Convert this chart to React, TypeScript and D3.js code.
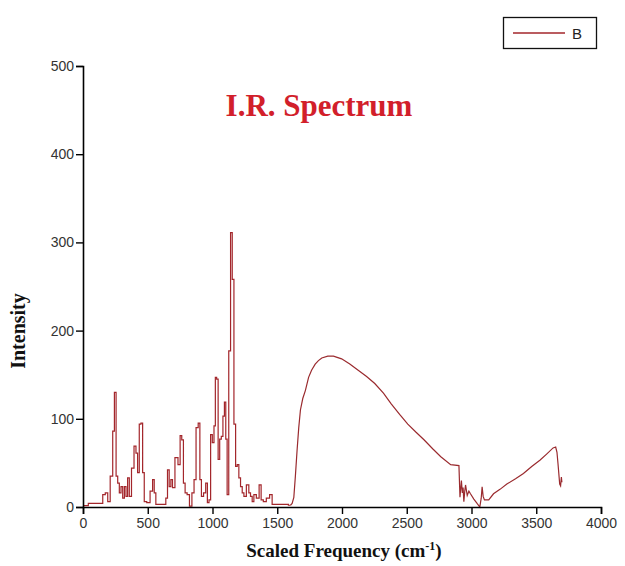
import {useEffect, useRef} from 'react'
import * as d3 from 'd3'

// spectrum (frequency in cm-1, intensity)
const freq = [0, 82, 146, 159, 185, 197, 223, 236, 249, 262, 274, 287, 300, 313, 326, 338, 351, 364,
    385, 403, 415, 428, 441, 454, 467, 479, 505, 531, 544, 556, 569, 595, 633, 646, 659, 672, 685, 697,
    723, 744, 756, 769, 782, 795, 813, 831, 851, 864, 882, 897, 908, 921, 941, 954, 967, 979,
    992, 1005, 1018, 1026, 1038, 1049, 1062, 1074, 1087, 1097, 1108, 1118, 1133, 1146, 1159, 1172, 1185,
    1197, 1210, 1223, 1236, 1249, 1274, 1287, 1300, 1313, 1326, 1351, 1369, 1382, 1403, 1428, 1454, 1467,
    1492, 1570, 1602, 1615, 1628, 1640, 1653, 1666, 1679, 1697, 1717, 1742, 1765, 1793, 1818, 1844, 1890,
    1934, 1997, 2060, 2125, 2190, 2253, 2320, 2380, 2445, 2508, 2570, 2635, 2700, 2763, 2839, 2903, 2911,
    2922, 2929, 2935, 2941, 2948, 2954, 2967, 2980, 2992, 3018, 3043, 3064, 3075, 3082, 3090, 3100, 3133,
    3170, 3220, 3273, 3340, 3401, 3465, 3528, 3580, 3630, 3650, 3660, 3668, 3681, 3688, 3694, 3698]
const intensity = [1.5, 4, 4, 14, 16, 6, 35, 86, 130, 35, 27, 16, 23, 10, 23, 12, 33, 12,
    44, 69, 61, 39, 94, 95, 39, 6, 5, 18, 31, 16, 3, 3, 3, 10, 42, 23, 31, 22,
    56, 48, 81, 76, 27, 16, 14, 1, 16, 31, 90, 95, 31, 12, 16, 27, 5, 8,
    82, 73, 92, 147, 145, 54, 77, 80, 103, 119, 77, 14, 177, 311, 258, 94, 46,
    48, 33, 23, 16, 12, 25, 16, 12, 6, 14, 10, 25, 8, 6, 10, 14, 3,
    3, 3, 2, 4, 11, 35, 64, 90, 110, 123, 132, 147, 155, 162, 166, 169, 171,
    171, 168, 162, 155, 148, 140, 129, 117, 105, 94, 85, 76, 66, 57, 48, 47, 11,
    30, 16, 22, 6, 18, 25, 13, 18, 15, 9, 4, 0, 10, 23, 12, 8, 8,
    15, 20, 26, 32, 38, 46, 53, 60, 67, 68, 62, 49, 26, 24, 34, 28]

const xTicks = [0, 500, 1000, 1500, 2000, 2500, 3000, 3500, 4000]
const yTicks = [0, 100, 200, 300, 400, 500]
const seriesName = 'B'
const stepEnd = 1602 // sticks drawn as steps below this, smooth band above

function App(){
    const svg = useRef(null)

    useEffect(() => {
        const xScale = d3.scaleLinear()
            .domain([0, 4000])
            .range([83, 601])

        const yScale = d3.scaleLinear()
            .domain([0, 500])
            .range([507, 66])

        const svgRef = d3.select(svg.current)
        svgRef.selectAll("*").remove()

        const g = svgRef.append("g")

        const points = freq.map((f, i) => [f, intensity[i]])

        //spectrum line: stepped stick region then smooth band
        const stepLine = d3.line()
            .x((d) => xScale(d[0]))
            .y((d) => yScale(d[1]))
            .curve(d3.curveStep)
        const smoothLine = d3.line()
            .x((d) => xScale(d[0]))
            .y((d) => yScale(d[1]))

        g.append("path")
            .datum(points.filter((d) => d[0] <= stepEnd))
            .attr("d", stepLine)
            .attr("fill", "none")
            .attr("stroke", "#a3262b")
            .attr("stroke-width", 1.2)

        g.append("path")
            .datum(points.filter((d) => d[0] >= stepEnd))
            .attr("d", smoothLine)
            .attr("fill", "none")
            .attr("stroke", "#9a2a2e")
            .attr("stroke-width", 1.2)

        //bottom axis
        const xAxis = g.append("g")
            .attr("transform", `translate(0,${yScale(0)})`)
        xAxis.call(d3.axisBottom(xScale).tickValues(d3.range(0, 4001, 250)).tickSize(6).tickFormat(() => ""))
        xAxis.call(d3.axisBottom(xScale).tickValues(xTicks).tickSize(7).tickFormat(d3.format("d")))
        xAxis.selectAll(".domain").attr("stroke-width", 1.6)
        xAxis.selectAll("line").attr("stroke-width", 1.4)
        xAxis.selectAll("text")
            .style("font", "14px 'Liberation Sans', Arial, sans-serif")
            .attr("fill", "#333")
            .attr("y", 11)

        //left axis
        const yAxis = g.append("g")
            .attr("transform", `translate(${xScale(0)},0)`)
        yAxis.call(d3.axisLeft(yScale).tickValues(d3.range(0, 501, 50)).tickSize(5).tickFormat(() => ""))
        yAxis.call(d3.axisLeft(yScale).tickValues(yTicks).tickSize(7).tickFormat(d3.format("d")))
        yAxis.selectAll(".domain").attr("stroke-width", 1.6)
        yAxis.selectAll("line").attr("stroke-width", 1.4)
        yAxis.selectAll("text")
            .style("font", "14px 'Liberation Sans', Arial, sans-serif")
            .attr("fill", "#333")
            .attr("x", -9)

        //title
        g.append("text")
            .attr("x", 319)
            .attr("y", 116)
            .attr("text-anchor", "middle")
            .attr("fill", "#d21f2b")
            .style("font", "bold 31px 'Liberation Serif', 'Times New Roman', serif")
            .text("I.R. Spectrum")

        //axis titles
        g.append("text")
            .attr("transform", "translate(25,331) rotate(-90)")
            .attr("text-anchor", "middle")
            .attr("fill", "#111")
            .style("font", "bold 20px 'Liberation Serif', 'Times New Roman', serif")
            .text("Intensity")

        const xLabel = g.append("text")
            .attr("x", 344)
            .attr("y", 557)
            .attr("text-anchor", "middle")
            .attr("fill", "#111")
            .style("font", "bold 19px 'Liberation Serif', 'Times New Roman', serif")
        xLabel.append("tspan").text("Scaled Frequency (cm")
        xLabel.append("tspan").attr("dy", -7).style("font-size", "12px").text("-1")
        xLabel.append("tspan").attr("dy", 7).text(")")

        //legend
        const legend = g.append("g")
        legend.append("rect")
            .attr("x", 503.5)
            .attr("y", 17.5)
            .attr("width", 93)
            .attr("height", 31)
            .attr("fill", "white")
            .attr("stroke", "#111")
            .attr("stroke-width", 1.3)
        legend.append("line")
            .attr("x1", 513)
            .attr("x2", 565)
            .attr("y1", 33)
            .attr("y2", 33)
            .attr("stroke", "#a3262b")
            .attr("stroke-width", 1.3)
        legend.append("text")
            .attr("x", 572)
            .attr("y", 38.5)
            .attr("fill", "#222")
            .style("font", "15px 'Liberation Sans', Arial, sans-serif")
            .text(seriesName)
    }, [])

    return(
        <svg ref={svg} width={625} height={566} style={{position: 'absolute', left: 0, top: 0}}></svg>
    )
}

export default App
